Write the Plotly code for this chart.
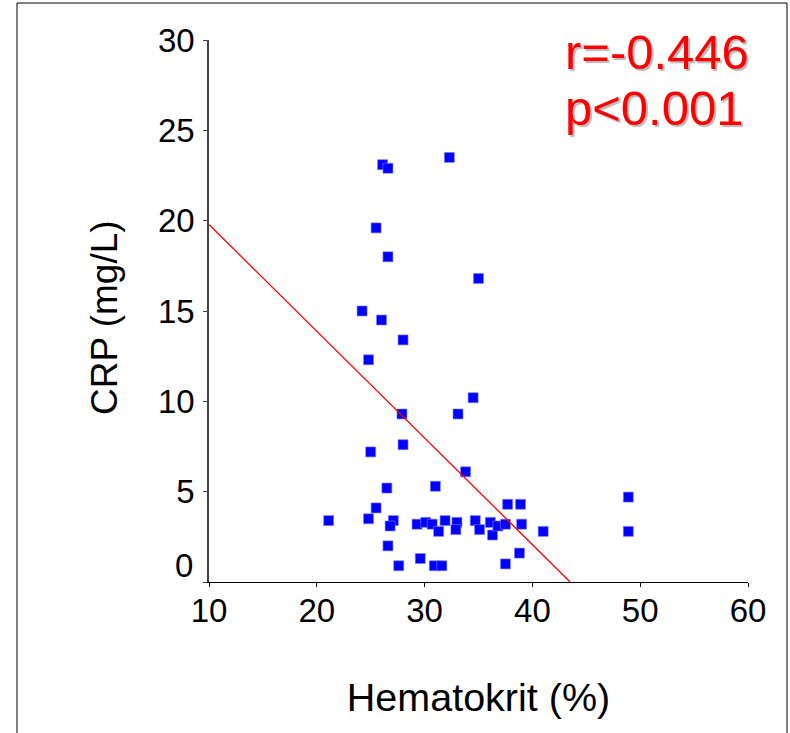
import plotly.graph_objects as go

# Data
hematokrit = [26.1, 26.6, 32.3, 25.5, 26.6, 35.0, 24.2, 26.0, 28.0, 24.8,
              34.5, 27.9, 33.1, 28.0, 25.0, 33.8, 26.5, 31.0, 48.9, 25.5,
              37.7, 38.9, 21.1, 24.8, 27.1, 26.8, 26.6, 27.6, 29.6, 30.9,
              31.6, 29.3, 30.1, 30.7, 31.3, 31.9, 33.0, 32.9, 34.7, 35.1,
              36.1, 36.3, 36.8, 37.5, 39.0, 41.0, 38.8, 37.5, 48.9]
crp = [23.1, 22.9, 23.5, 19.6, 18.0, 16.8, 15.0, 14.5, 13.4, 12.3,
       10.2, 9.3, 9.3, 7.6, 7.2, 6.1, 5.2, 5.3, 4.7, 4.1,
       4.3, 4.3, 3.4, 3.5, 3.4, 3.1, 2.0, 0.9, 1.3, 0.9,
       0.9, 3.2, 3.3, 3.2, 2.8, 3.4, 3.3, 2.9, 3.4, 2.9,
       3.3, 2.6, 3.1, 3.2, 3.2, 2.8, 1.6, 1.0, 2.8]

fit_intercept = 25.69
fit_slope = -0.5906
fit_x = [10, 43.5]
fit_y = [fit_intercept + fit_slope * x for x in fit_x]

x_ticks = [10, 20, 30, 40, 50, 60]
y_ticks = [5, 10, 15, 20, 25, 30]

stat_lines = ["r=-0.446", "p<0.001"]

FONT = "Liberation Sans, Arial, sans-serif"

fig = go.Figure()
fig.add_trace(go.Scatter(
    x=hematokrit, y=crp, mode="markers",
    marker=dict(symbol="square", size=10, color="#0000ff",
                line=dict(width=0.6, color="#8080ff")),
    showlegend=False, hoverinfo="x+y"))
fig.add_trace(go.Scatter(
    x=fit_x, y=fit_y, mode="lines",
    line=dict(color="#ff0000", width=1.3),
    showlegend=False))

fig.update_layout(
    width=790, height=733, autosize=False,
    margin=dict(l=209, r=42, t=40, b=151, pad=0),
    paper_bgcolor="white", plot_bgcolor="white",
    font=dict(family=FONT, color="black"),
    xaxis=dict(range=[10, 60], tickvals=x_ticks, ticktext=[str(v) for v in x_ticks],
               showgrid=False, zeroline=False, showline=True, linecolor="black",
               linewidth=1.3, ticks="outside", ticklen=4, tickwidth=1.3,
               tickcolor="black", tickfont=dict(size=33, family=FONT),
               ticklabelstandoff=-5,
               title=dict(text="Hematokrit (%)", font=dict(size=39.5, family=FONT),
                          standoff=55)),
    yaxis=dict(range=[0, 30], tickvals=[0] + y_ticks,
               ticktext=[""] + [str(v) for v in y_ticks],
               showgrid=False, zeroline=False, showline=True, linecolor="#444444",
               linewidth=1.5, ticks="outside", ticklen=4, tickwidth=1.3,
               tickcolor="#444444", tickfont=dict(size=33, family=FONT),
               ticklabelstandoff=2),
)

# y-axis title
fig.add_annotation(x=(104 - 209) / 539, xref="paper", y=0.487, yref="paper",
                   text="CRP (mg/L)", textangle=-90, showarrow=False,
                   xanchor="center", yanchor="middle",
                   font=dict(size=37, family=FONT, color="black"))

# "0" tick label drawn slightly above the axis, as in the reference
fig.add_annotation(x=0, xref="paper", y=0, yref="y", text="0", showarrow=False,
                   xanchor="right", yanchor="middle", xshift=-14, yshift=17,
                   font=dict(size=33, family=FONT, color="black"))

# correlation statistics
for txt, ypos in zip(stat_lines, [0.978, 0.874]):
    fig.add_annotation(x=0.657, xref="paper", y=ypos, yref="paper", text=txt,
                       showarrow=False, xanchor="left", yanchor="middle",
                       font=dict(size=49, family=FONT, color="#ff0000",
                                 shadow="2px 2px 1px #b8b8b8"))

# outer frame
fig.add_shape(type="rect", xref="paper", yref="paper",
              x0=(17 - 209) / 539, x1=(787 - 209) / 539,
              y0=(582 - 740) / 542, y1=(582 - 3) / 542,
              line=dict(color="black", width=1), fillcolor="rgba(0,0,0,0)",
              layer="below")

fig.write_html("out.html", config={"displayModeBar": False},
               post_script="document.body.style.margin='0';"
                           "document.body.style.overflow='hidden';")
